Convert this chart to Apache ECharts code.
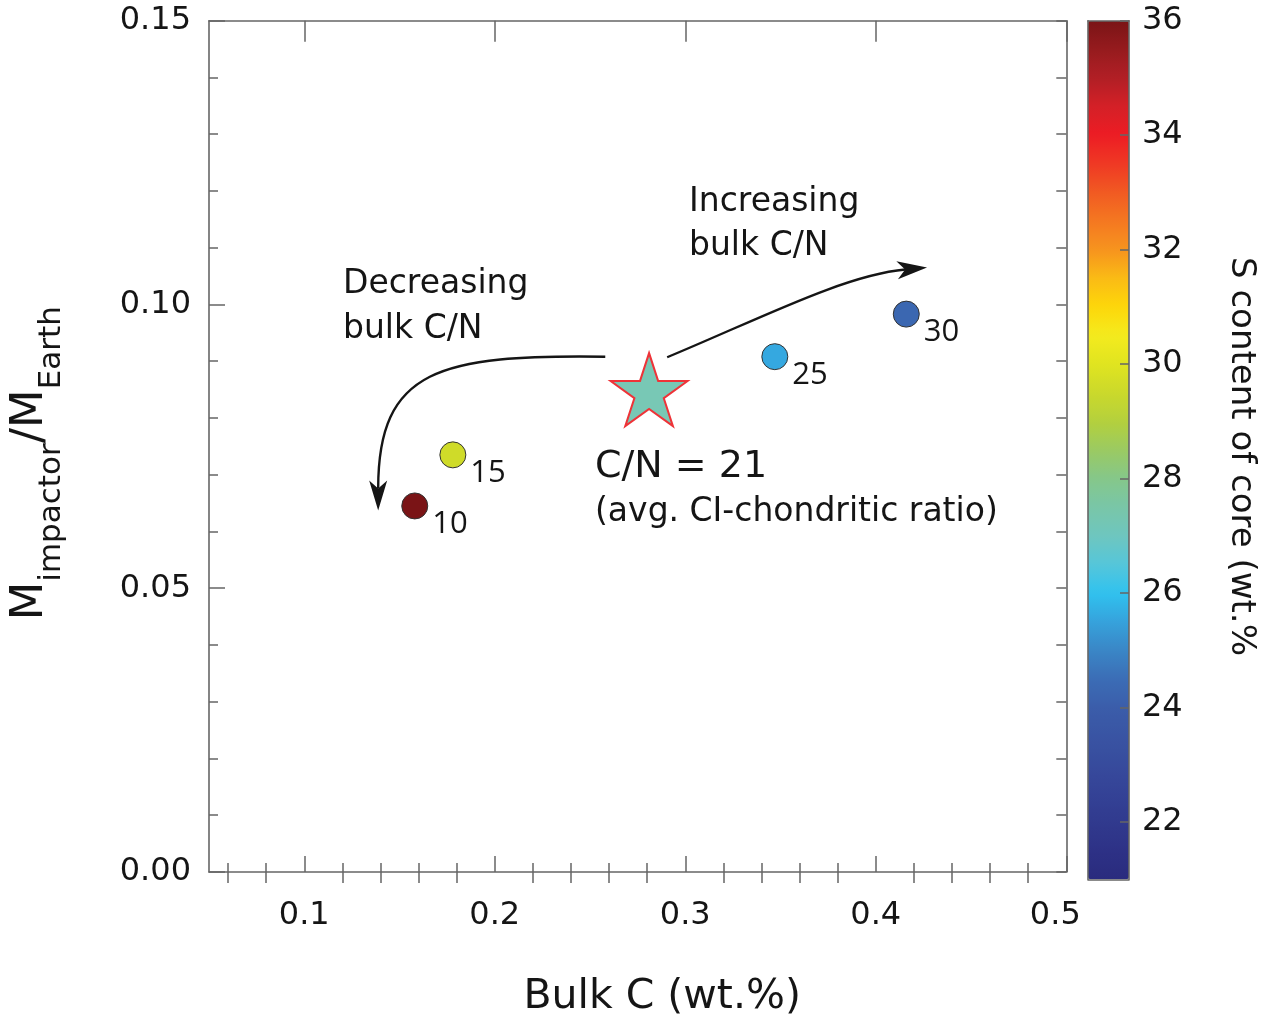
<!DOCTYPE html>
<html>
<head>
<meta charset="utf-8">
<title>Impactor mass vs bulk C</title>
<script src="https://cdn.jsdelivr.net/npm/echarts@6/dist/echarts.min.js"></script>
<style>
  html, body { margin: 0; padding: 0; background: #fff; }
  #chart { width: 1269px; height: 1023px; }
</style>
</head>
<body>
<div id="chart"></div>
<script>
// Bulk C/N ratio of each impactor model
const cnRatio = [10, 15, 25, 30];
// Bulk C content (wt.%)
const bulkC = [0.158, 0.178, 0.347, 0.416];
// Impactor mass relative to Earth
const massRatio = [0.0645, 0.0735, 0.0908, 0.0983];
// S content of the core (wt.%), shown by colour
const sCore = [36.0, 29.6, 25.6, 24.3];

// Average CI-chondritic composition
const chondriticCN = 21;
const chondriticBulkC = 0.281;
const chondriticMass = 0.085;

// Axis ticks
const xMajorTicks = [0.1, 0.2, 0.3, 0.4, 0.5];
const xMinorTicks = [0.06, 0.08, 0.12, 0.14, 0.16, 0.18, 0.22, 0.24, 0.26, 0.28,
                     0.32, 0.34, 0.36, 0.38, 0.42, 0.44, 0.46, 0.48];
const colorbarTicks = [22, 24, 26, 28, 30, 32, 34, 36];

// Colour scale for the S content, from 21 to 36 wt.% in 0.5 steps
const sPalette = [
  '#2a2b7e', '#2d3186', '#313a8e', '#344296', '#374b9d', '#3954a3', '#3b5daa',
  '#3b6db6', '#3a86c6', '#36a2dc', '#30c2ef', '#55c6da', '#6ec6bf', '#79c6a8',
  '#85c78a', '#9bca62', '#b4d03c', '#cbd92b', '#e0e420', '#f4eb1e', '#fdd70a',
  '#fabb15', '#f7931e', '#f47821', '#f15a22', '#ef3924', '#ed1c24', '#d42027',
  '#b11f25', '#961b1e', '#7a1416'
];

const FONT = '"DejaVu Sans", "Liberation Sans", sans-serif';
const AXIS_GREY = '#666';
const INK = '#151515';

const STAR_PATH = 'path://M100,0 L122.45,69.1 L195.1,69.1 L136.3,111.8 L158.8,180.9 ' +
  'L100,138.2 L41.2,180.9 L63.7,111.8 L4.9,69.1 L77.55,69.1 Z';

// Curved arrows (start, control 1, control 2, tip) in data units
const trendArrows = [
  [0.258, 0.0908, 0.1714, 0.0912, 0.1388, 0.0887, 0.1388, 0.0637],
  [0.2905, 0.0907, 0.3392, 0.0975, 0.3838, 0.1052, 0.4269, 0.1065]
];

const points = cnRatio.map((cn, i) => [bulkC[i], massRatio[i], sCore[i], cn]);

const chart = echarts.init(document.getElementById('chart'), null, { renderer: 'canvas' });

function frameAxis(extra) {
  return Object.assign({
    type: 'value',
    axisLine: { show: true, onZero: false, lineStyle: { color: AXIS_GREY, width: 1.6 } },
    splitLine: { show: false },
    axisLabel: { show: false },
    axisTick: { show: false }
  }, extra);
}

const option = {
  backgroundColor: '#fff',
  animation: false,
  grid: [
    { left: 208.7, top: 20.7, width: 857.6, height: 855.3 },
    { left: 1088, top: 20.7, width: 41, height: 858.6 }
  ],
  xAxis: [
    frameAxis({
      gridIndex: 0, position: 'bottom', min: 0.05, max: 0.5,
      name: 'Bulk C (wt.%)', nameLocation: 'middle', nameGap: 105,
      nameTextStyle: { fontFamily: FONT, fontSize: 41, color: INK, padding: [0, 0, 0, 49] },
      axisTick: { show: true, inside: true, length: 16, customValues: xMajorTicks,
                  lineStyle: { color: AXIS_GREY, width: 1.5 } },
      axisLabel: {
        show: true, customValues: xMajorTicks, margin: 28,
        fontFamily: FONT, fontSize: 32, color: INK,
        formatter: v => (Math.abs(v - 0.5) < 1e-9 ? '{last|' + v.toFixed(1) + '}' : v.toFixed(1)),
        rich: { last: { fontFamily: FONT, fontSize: 32, color: INK, padding: [0, 22, 0, 0] } }
      }
    }),
    frameAxis({
      gridIndex: 0, position: 'bottom', min: 0.05, max: 0.5,
      axisLine: { show: false },
      axisTick: { show: true, inside: true, length: 9, customValues: xMinorTicks,
                  lineStyle: { color: AXIS_GREY, width: 1.5 } }
    }),
    frameAxis({
      gridIndex: 0, position: 'top', min: 0.05, max: 0.5,
      axisTick: { show: true, inside: true, length: 21, customValues: xMajorTicks,
                  lineStyle: { color: AXIS_GREY, width: 1.5 } }
    }),
    frameAxis({
      gridIndex: 0, position: 'top', min: 0.05, max: 0.5,
      axisLine: { show: false },
      axisTick: { show: true, inside: true, length: 11, customValues: xMinorTicks,
                  lineStyle: { color: AXIS_GREY, width: 1.5 } }
    }),
    frameAxis({ gridIndex: 1, position: 'bottom', min: 0, max: 1, z: 10 }),
    frameAxis({ gridIndex: 1, position: 'top', min: 0, max: 1, z: 10 })
  ],
  yAxis: [
    frameAxis({
      gridIndex: 0, position: 'left', min: 0, max: 0.15, interval: 0.05,
      name: '{m|M}{s|impactor}{m|/M}{s|Earth}',
      nameLocation: 'middle', nameGap: 142,
      nameTextStyle: {
        color: INK, lineHeight: 59, padding: [0, 34, 0, 0],
        rich: {
          m: { fontFamily: FONT, fontSize: 45, color: INK, verticalAlign: 'top', lineHeight: 59 },
          s: { fontFamily: FONT, fontSize: 31, color: INK, verticalAlign: 'bottom', lineHeight: 59 }
        }
      },
      axisTick: { show: true, inside: true, length: 16, lineStyle: { color: AXIS_GREY, width: 1.5 } },
      minorTick: { show: true, splitNumber: 5, length: 9, lineStyle: { color: AXIS_GREY, width: 1.5 } },
      axisLabel: { show: true, margin: 18, fontFamily: FONT, fontSize: 32, color: INK,
                   padding: [0, 0, 6, 0], formatter: v => v.toFixed(2) }
    }),
    frameAxis({
      gridIndex: 0, position: 'right', min: 0, max: 0.15, interval: 0.05,
      axisTick: { show: true, inside: true, length: 10, lineStyle: { color: AXIS_GREY, width: 1.5 } },
      minorTick: { show: true, splitNumber: 5, length: 10, lineStyle: { color: AXIS_GREY, width: 1.5 } }
    }),
    frameAxis({ gridIndex: 1, position: 'left', min: 21, max: 36, z: 10 }),
    frameAxis({
      gridIndex: 1, position: 'right', min: 21, max: 36, z: 10,
      name: 'S content of core (wt.%', nameLocation: 'middle', nameGap: 95, nameRotate: -90,
      nameTextStyle: { fontFamily: FONT, fontSize: 34, color: INK, padding: [0, 0, 0, 13] },
      axisTick: { show: true, inside: true, length: 9, customValues: colorbarTicks,
                  lineStyle: { color: AXIS_GREY, width: 1.5 } },
      axisLabel: { show: true, customValues: colorbarTicks, margin: 13,
                   padding: [0, 0, 6, 0], fontFamily: FONT, fontSize: 32, color: INK }
    })
  ],
  visualMap: {
    type: 'continuous',
    min: 21, max: 36,
    dimension: 2,
    seriesIndex: 0,
    inRange: { color: sPalette },
    calculable: false,
    hoverLink: false,
    text: null,
    left: 1088, top: 20.7,
    itemWidth: 41, itemHeight: 858.6,
    padding: 0,
    orient: 'vertical'
  },
  series: [
    {
      name: 'Impactor models',
      type: 'scatter',
      xAxisIndex: 0, yAxisIndex: 0,
      data: points,
      symbol: 'circle',
      symbolSize: 26,
      itemStyle: { borderColor: '#333', borderWidth: 1, opacity: 1 },
      label: {
        show: true,
        position: [31, 32],
        align: 'left', verticalAlign: 'middle',
        fontFamily: '"Open Sans", "DejaVu Sans", sans-serif',
        fontSize: 31, color: INK,
        formatter: p => String(p.value[3])
      },
      z: 5
    },
    {
      name: 'CI chondrite',
      type: 'scatter',
      xAxisIndex: 0, yAxisIndex: 0,
      data: [[chondriticBulkC, chondriticMass, chondriticCN]],
      symbol: STAR_PATH,
      symbolSize: [77, 73],
      itemStyle: { color: '#78c8b5', borderColor: '#ee3338', borderWidth: 2, opacity: 1 },
      z: 6
    },
    {
      name: 'Trend arrows',
      type: 'custom',
      xAxisIndex: 0, yAxisIndex: 0,
      data: trendArrows,
      silent: true,
      clip: false,
      z: 4,
      renderItem: (params, api) => {
        const p0 = api.coord([api.value(0), api.value(1)]);
        const c1 = api.coord([api.value(2), api.value(3)]);
        const c2 = api.coord([api.value(4), api.value(5)]);
        const tip = api.coord([api.value(6), api.value(7)]);
        const dx = tip[0] - c2[0], dy = tip[1] - c2[1];
        const len = Math.hypot(dx, dy) || 1;
        const ux = dx / len, uy = dy / len, nx = -uy, ny = ux;
        const headLen = 30, headHalf = 9, notch = 8;
        const back = [tip[0] - ux * headLen, tip[1] - uy * headLen];
        const inner = [tip[0] - ux * (headLen - notch), tip[1] - uy * (headLen - notch)];
        return {
          type: 'group',
          children: [
            {
              type: 'bezierCurve',
              shape: { x1: p0[0], y1: p0[1], cpx1: c1[0], cpy1: c1[1],
                       cpx2: c2[0], cpy2: c2[1], x2: inner[0], y2: inner[1] },
              style: { stroke: INK, lineWidth: 2.4, fill: null }
            },
            {
              type: 'polygon',
              shape: { points: [tip,
                [back[0] + nx * headHalf, back[1] + ny * headHalf],
                inner,
                [back[0] - nx * headHalf, back[1] - ny * headHalf]] },
              style: { fill: INK }
            }
          ]
        };
      }
    }
  ],
  graphic: [
    { type: 'text', x: 343, y: 284, style: { text: 'Decreasing', font: '33px ' + FONT, fill: INK, textVerticalAlign: 'middle' } },
    { type: 'text', x: 343, y: 329, style: { text: 'bulk C/N', font: '33px ' + FONT, fill: INK, textVerticalAlign: 'middle' } },
    { type: 'text', x: 689, y: 202, style: { text: 'Increasing', font: '33px ' + FONT, fill: INK, textVerticalAlign: 'middle' } },
    { type: 'text', x: 689, y: 246, style: { text: 'bulk C/N', font: '33px ' + FONT, fill: INK, textVerticalAlign: 'middle' } },
    { type: 'text', x: 595, y: 467, style: { text: 'C/N = ' + chondriticCN, font: '38px ' + FONT, fill: INK, textVerticalAlign: 'middle' } },
    { type: 'text', x: 595, y: 512, style: { text: '(avg. CI-chondritic ratio)', font: '33px ' + FONT, fill: INK, textVerticalAlign: 'middle' } }
  ]
};

chart.setOption(option);
</script>
</body>
</html>
